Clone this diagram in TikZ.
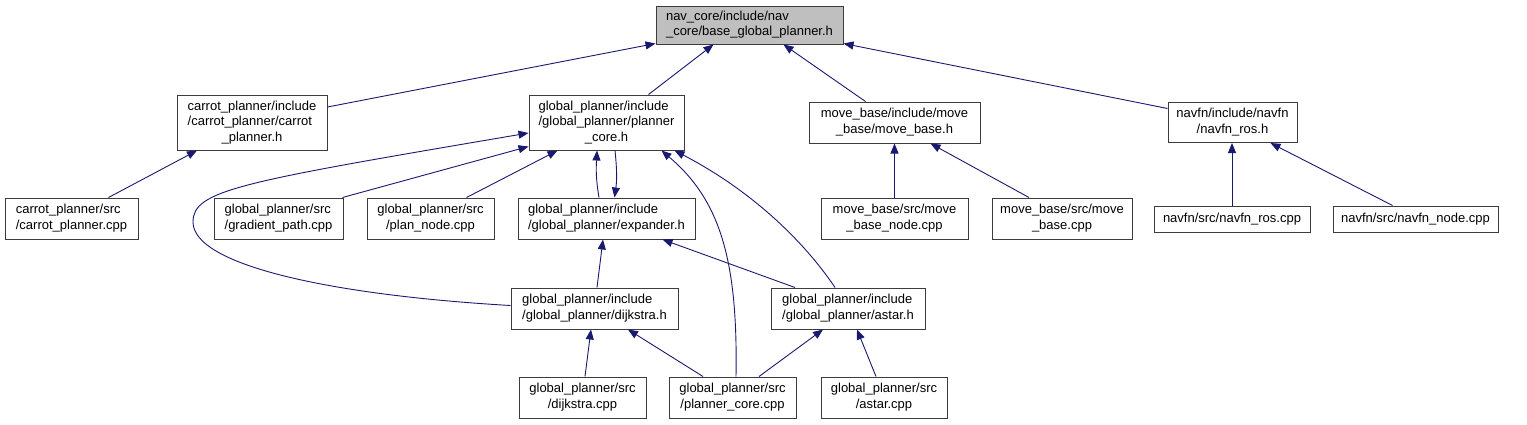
\documentclass[tikz,border=0pt]{standalone}
\usepackage{fontspec}
\setmainfont{Liberation Sans}
\usetikzlibrary{arrows.meta,calc}
\definecolor{edgecol}{RGB}{25,25,112}
\definecolor{boxline}{RGB}{60,60,60}
\definecolor{topfill}{RGB}{191,191,191}
\newcommand\Lbl[2]{\begin{tabular}{@{}l@{}}#1\\\multicolumn{1}{@{}c@{}}{#2}\end{tabular}}
\tikzset{
  box/.style={draw=boxline, line width=1pt, fill=white, rectangle, inner sep=0pt,
    font=\fontsize{13}{15.5}\selectfont},
  two/.style={minimum height=41pt},
  one/.style={minimum height=26pt},
  three/.style={minimum height=55pt},
  edge/.style={draw=edgecol, line width=0.9pt, -{Triangle[length=10pt,width=8pt]}}
}
\begin{document}
\begin{tikzpicture}[x=1pt,y=-1pt]
\useasboundingbox (0,0) rectangle (1527,424);
% nodes
\node[box, fill=topfill, minimum width=187pt, minimum height=38pt] (top) at (749.5,25)
  {\Lbl{nav\_core/include/nav}{\_core/base\_global\_planner.h}};
\node[box, three, minimum width=150pt] (carroth) at (252,122.5)
  {\Lbl{carrot\_planner/include\\/carrot\_planner/carrot}{\_planner.h}};
\node[box, two, minimum width=133pt] (carrotc) at (71.5,218.5)
  {\Lbl{carrot\_planner/src}{/carrot\_planner.cpp}};
\node[box, two, minimum width=129pt] (grad) at (278.5,218.5)
  {\Lbl{global\_planner/src}{/gradient\_path.cpp}};
\node[box, two, minimum width=127pt] (plan) at (430.5,218.5)
  {\Lbl{global\_planner/src}{/plan\_node.cpp}};
\node[box, three, minimum width=155pt] (pch) at (606.5,122.5)
  {\Lbl{global\_planner/include\\/global\_planner/planner}{\_core.h}};
\node[box, two, minimum width=171pt] (mbh) at (894.5,122.5)
  {\Lbl{move\_base/include/move}{\_base/move\_base.h}};
\node[box, minimum height=40pt, minimum width=129pt] (nfh) at (1232.5,122.5)
  {\Lbl{navfn/include/navfn}{/navfn\_ros.h}};
\node[box, two, minimum width=177pt] (exp) at (606.5,218.5)
  {\Lbl{global\_planner/include}{/global\_planner/expander.h}};
\node[box, two, minimum width=147pt] (mbn) at (894.5,218.5)
  {\Lbl{move\_base/src/move}{\_base\_node.cpp}};
\node[box, two, minimum width=140pt] (mbc) at (1062,218.5)
  {\Lbl{move\_base/src/move}{\_base.cpp}};
\node[box, one, minimum width=156pt] (nrc) at (1232,219) {navfn/src/navfn\_ros.cpp};
\node[box, one, minimum width=165pt] (nnc) at (1415.5,219) {navfn/src/navfn\_node.cpp};
\node[box, two, minimum width=167pt] (dijh) at (594.5,308.5)
  {\Lbl{global\_planner/include}{/global\_planner/dijkstra.h}};
\node[box, two, minimum width=154pt] (asth) at (848,308.5)
  {\Lbl{global\_planner/include}{/global\_planner/astar.h}};
\node[box, two, minimum width=127pt] (dijc) at (582.5,397.5)
  {\Lbl{global\_planner/src}{/dijkstra.cpp}};
\node[box, two, minimum width=127pt] (pcc) at (732.5,397.5)
  {\Lbl{global\_planner/src}{/planner\_core.cpp}};
\node[box, two, minimum width=126pt] (astc) at (884,397.5)
  {\Lbl{global\_planner/src}{/astar.cpp}};
% edges
\draw[edge] ($(carroth.east)+(0,-15.5)$) -- ($(top.south west)+(0,-1)$);
\draw[edge] ($(pch.north)+(42,0)$) -- ($(top.south)+(-36,0)$);
\draw[edge] ($(mbh.north)+(-29,0)$) -- ($(top.south)+(34,0)$);
\draw[edge] ($(nfh.west)+(0,-14)$) -- ($(top.south east)+(0,-1)$);
\draw[edge] ($(carrotc.north)+(37,0)$) -- ($(carroth.south)+(-55,0)$);
\draw[edge] ($(grad.north)+(64,0)$) -- ($(pch.south west)+(0,-4)$);
\draw[edge] ($(plan.north)+(36,0)$) -- ($(pch.south)+(-49,0)$);
\draw[edge] ($(dijh.west)+(0,-3)$) .. controls (330,295) and (193,265) .. (193,222)
  .. controls (193,190) and (240,182) .. ($(pch.west)+(0,10.5)$);
\draw[edge] ($(pcc.north)+(3.5,0)$) .. controls (738,260) and (720,200) .. ($(pch.south)+(55,0)$);
\draw[edge] ($(asth.north)+(-13,0)$) .. controls (810,250) and (760,195) .. ($(pch.south)+(68,0)$);
\draw[edge] ($(exp.north)+(-7.5,0)$) .. controls (596,180) and (596,170) .. ($(pch.south)+(-9.5,0)$);
\draw[edge] ($(pch.south)+(8.5,0)$) .. controls (617,170) and (617,180) .. ($(exp.north)+(8,0)$);
\draw[edge] ($(dijh.north)+(2.5,0)$) -- ($(exp.south)+(-3.5,0)$);
\draw[edge] ($(asth.north)+(-53,0)$) -- ($(exp.south)+(56,0)$);
\draw[edge] ($(dijc.north)+(2.5,0)$) -- ($(dijh.south)+(-3.5,0)$);
\draw[edge] ($(pcc.north)+(-29.5,0)$) -- ($(dijh.south)+(33.5,0)$);
\draw[edge] ($(pcc.north)+(26.5,0)$) -- ($(asth.south)+(-25,0)$);
\draw[edge] ($(astc.north)+(-8,0)$) -- ($(asth.south)+(9,0)$);
\draw[edge] (mbn.north) -- (mbh.south);
\draw[edge] ($(mbc.north)+(-33,0)$) -- ($(mbh.south)+(36,0)$);
\draw[edge] (nrc.north) -- (nrc.north |- nfh.south);
\draw[edge] ($(nnc.north)+(-23,0)$) -- ($(nfh.south)+(38,0)$);
\end{tikzpicture}
\end{document}
